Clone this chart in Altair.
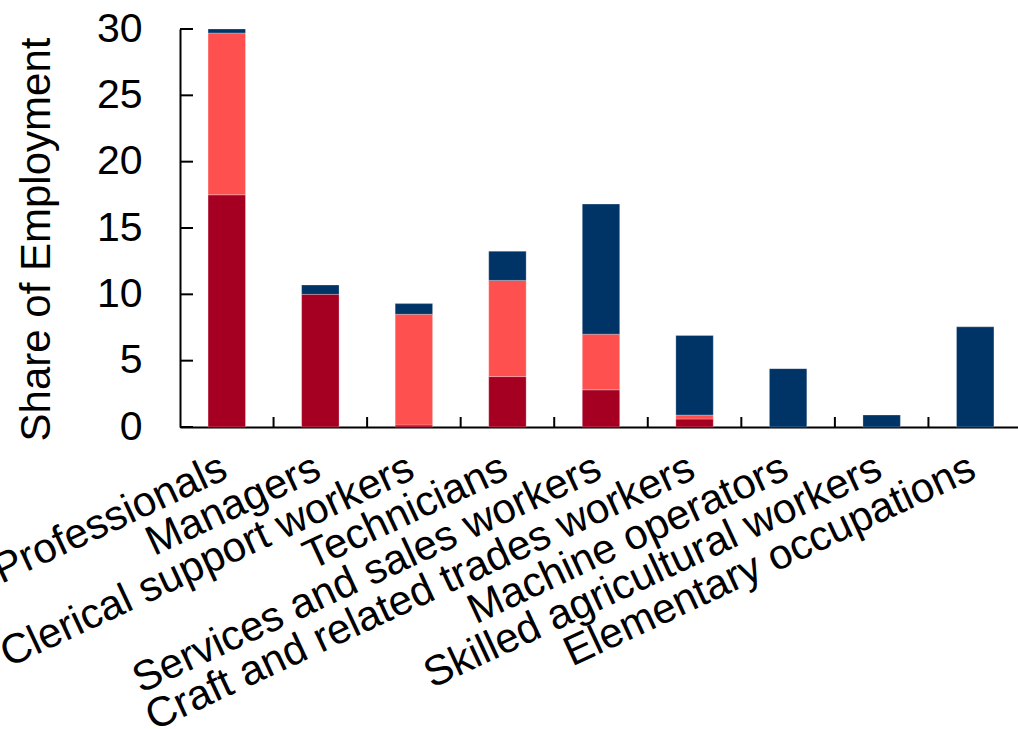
import altair as alt
import pandas as pd

# Occupation categories, left to right
occupations = [
    "Professionals",
    "Managers",
    "Clerical support workers",
    "Technicians",
    "Services and sales workers",
    "Craft and related trades workers",
    "Machine operators",
    "Skilled agricultural workers",
    "Elementary occupations",
]

# Stacked segments (share of employment, %), bottom to top
group_a = [17.5, 10.0, 0.15, 3.8, 2.8, 0.6, 0.0, 0.0, 0.0]
group_b = [12.2, 0.0, 8.35, 7.25, 4.2, 0.3, 0.0, 0.0, 0.0]
group_c = [0.3, 0.7, 0.8, 2.2, 9.8, 6.0, 4.4, 0.9, 7.55]

groups = ["Group A", "Group B", "Group C"]
colors = ["#A50021", "#FF5050", "#003366"]
y_ticks = [0, 5, 10, 15, 20, 25, 30]

FONT = "Liberation Sans"
W, H = 842, 398

rows = []
for i, occ in enumerate(occupations):
    for rank, (g, vals) in enumerate(zip(groups, [group_a, group_b, group_c])):
        if vals[i] > 0:
            rows.append({"occupation": occ, "group": g, "rank": rank, "share": vals[i]})
df = pd.DataFrame(rows)

y_axis = alt.Axis(
    title="Share of Employment",
    values=y_ticks,
    grid=False,
    ticks=False,
    labelPadding=38,
    labelFontSize=41,
    labelFont=FONT,
    labelColor="black",
    titleFontSize=42,
    titleFont=FONT,
    titleFontWeight="normal",
    titleColor="black",
    titleX=-122,
    titleY=210,
    domainColor="black",
    domainWidth=2,
)
y_scale = alt.Scale(domain=[0, 30], nice=False)

bars = alt.Chart(df).mark_bar(stroke="white", strokeWidth=0.5, strokeOpacity=0.5).encode(
    x=alt.X(
        "occupation:N",
        sort=occupations,
        scale=alt.Scale(paddingInner=0.6, paddingOuter=0.3),
        axis=alt.Axis(
            title=None,
            labelAngle=-25,
            labelAlign="right",
            labelBaseline="top",
            labelPadding=20,
            labelOffset=-11,
            labelFontSize=42,
            labelFont=FONT,
            labelColor="black",
            labelOverlap=False,
            labelLimit=2000,
            ticks=False,
            domainColor="black",
            domainWidth=2,
        ),
    ),
    y=alt.Y("share:Q", stack="zero", scale=y_scale, axis=y_axis),
    color=alt.Color("group:N", scale=alt.Scale(domain=groups, range=colors), legend=None),
    order=alt.Order("rank:Q", sort="ascending"),
)

# Inward-pointing y ticks
y_tick_marks = alt.Chart(pd.DataFrame({"share": y_ticks})).mark_rule(
    color="black", strokeWidth=2
).encode(
    y=alt.Y("share:Q", scale=y_scale, axis=y_axis),
    x=alt.value(0),
    x2=alt.value(13),
)

# Inward-pointing x ticks at the boundaries between categories
boundaries = list(range(1, len(occupations)))
x_tick_marks = alt.Chart(pd.DataFrame({"edge": boundaries})).mark_rule(
    color="black", strokeWidth=2
).encode(
    x=alt.X("edge:Q", scale=alt.Scale(domain=[0, len(occupations)], nice=False, zero=False), axis=None),
    y=alt.value(H - 10),
    y2=alt.value(H),
)

chart = (
    alt.layer(bars, y_tick_marks, x_tick_marks)
    .resolve_scale(x="independent")
    .properties(
        width=W,
        height=H,
        autosize="none",
        padding={"left": 180, "top": 29, "right": -4, "bottom": 302},
    )
    .configure_view(stroke=None)
)

chart.save("out.html", embed_options={"renderer": "svg", "actions": False})
